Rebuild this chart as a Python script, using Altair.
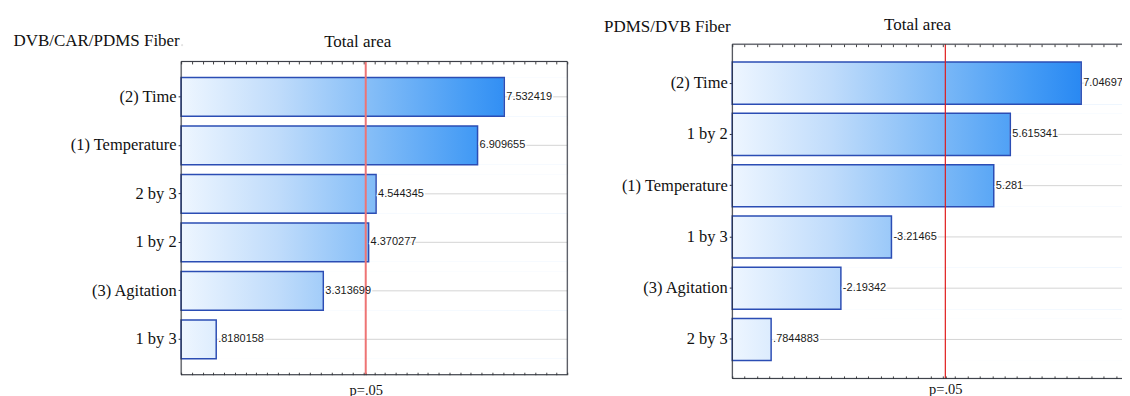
import altair as alt
import pandas as pd

# ---------------- data ----------------
left_fiber = "DVB/CAR/PDMS Fiber"
left_terms = ["(2) Time", "(1) Temperature", "2 by 3", "1 by 2", "(3) Agitation", "1 by 3"]
left_values = [7.532419, 6.909655, 4.544345, 4.370277, 3.313699, 0.8180158]
left_labels = ["7.532419", "6.909655", "4.544345", "4.370277", "3.313699", ".8180158"]
left_xmax = 9

right_fiber = "PDMS/DVB Fiber"
right_terms = ["(2) Time", "1 by 2", "(1) Temperature", "1 by 3", "(3) Agitation", "2 by 3"]
right_values = [7.046977, 5.615341, 5.281, -3.21465, -2.19342, 0.7844883]
right_labels = ["7.046977", "5.615341", "5.281", "-3.21465", "-2.19342", ".7844883"]
right_xmax = 8

t_crit = 4.303          # p = .05 reference line
axis_title = "Total area"
p_label = "p=.05"

SERIF = "Liberation Serif"
SANS = "Liberation Sans"

GRAD = alt.LinearGradient(
    gradient="linear", x1=0, x2=1, y1=0, y2=0,
    stops=[
        alt.GradientStop(offset=0.0, color="#eef6ff"),
        alt.GradientStop(offset=0.25, color="#c0dcfb"),
        alt.GradientStop(offset=0.5, color="#82bcf7"),
        alt.GradientStop(offset=0.75, color="#449bf5"),
        alt.GradientStop(offset=1.0, color="#1078f0"),
    ],
)


def panel(terms, values, labels, xmax, fiber, width, height,
          fiber_x, fiber_y, title_x, title_y, p_pad,
          red_color, red_width, pad_inner, pad_outer):
    df = pd.DataFrame({"term": terms, "effect": values, "label": labels})
    df["mag"] = df["effect"].abs()
    df["zero"] = 0.0
    df["xmax"] = float(xmax)
    quarter = [i / 4 for i in range(int(xmax * 4) + 1)]

    xscale = alt.Scale(domain=[0, xmax], nice=False, zero=True)
    yscale = alt.Scale(paddingInner=pad_inner, paddingOuter=pad_outer)
    yaxis = alt.Axis(
        title=fiber, titleAngle=0, titleAlign="left", titleBaseline="alphabetic",
        titleX=fiber_x, titleY=fiber_y, titleFont=SERIF, titleFontSize=17,
        titleFontWeight="normal", titleColor="#111",
        labelFont=SERIF, labelFontSize=16.5, labelColor="#111", labelPadding=2,
        labelLimit=300, tickSize=3, tickColor="#333", domain=False, grid=False,
    )

    def Y():
        return alt.Y("term:N", sort=terms, scale=yscale, axis=yaxis)

    bottom_axis = alt.Axis(
        orient="bottom", values=quarter + [t_crit],
        labelExpr=f"abs(datum.value - {t_crit}) < 0.001 ? '{p_label}' : ''",
        labelFont=SERIF, labelFontSize=14.5, labelColor="#111",
        labelBaseline="alphabetic", labelPadding=p_pad, labelOverlap=False,
        labelFlush=False, tickSize=2.5, tickColor="#444", tickWidth=1,
        offset=-2.5, domain=False, grid=False, title=None,
    )
    top_axis = alt.Axis(
        orient="top", values=quarter, labels=False, tickSize=2.5, tickColor="#444",
        tickWidth=1, offset=-2.5, domain=False, grid=False,
        title=axis_title, titleFont=SERIF, titleFontSize=17, titleFontWeight="normal",
        titleColor="#111", titleX=title_x, titleY=title_y,
        titleBaseline="alphabetic", titleAlign="center",
    )

    base = alt.Chart(df)
    grad = base.mark_bar(color=GRAD).encode(
        x=alt.X("zero:Q", scale=xscale, axis=bottom_axis), x2="xmax:Q", y=Y())
    cover = base.mark_bar(color="white", stroke="white", strokeWidth=1).encode(
        x=alt.X("mag:Q", axis=top_axis), x2="xmax:Q", y=Y())
    grid = base.mark_rule(color="#d4d4d4", strokeWidth=1).encode(
        x=alt.X("mag:Q", axis=None), x2="xmax:Q", y=Y())
    outline = base.mark_bar(filled=False, color="#2b4db4", strokeWidth=1.5).encode(
        x=alt.X("zero:Q", axis=None), x2="mag:Q", y=Y())
    halo = base.mark_text(align="left", baseline="middle", dx=2, font=SANS, fontSize=11,
                          fill="white", stroke="white", strokeWidth=3, clip=True).encode(
        x=alt.X("mag:Q", axis=None), y=Y(), text="label:N")
    red = alt.Chart(pd.DataFrame({"crit": [t_crit]})).mark_rule(
        color=red_color, strokeWidth=red_width).encode(x=alt.X("crit:Q", axis=None))
    text = base.mark_text(align="left", baseline="middle", dx=2, font=SANS, fontSize=11,
                          color="#1a1a1a", clip=True).encode(
        x=alt.X("mag:Q", axis=None), y=Y(), text="label:N")
    frame = alt.Chart(pd.DataFrame({"f0": [0.0], "f1": [float(xmax)]})).mark_rect(
        fill="transparent", stroke="#2a2e38", strokeWidth=1).encode(
        x=alt.X("f0:Q", axis=None), x2="f1:Q")

    return alt.layer(grad, cover, grid, outline, halo, red, text, frame).properties(
        width=width, height=height)


left = panel(left_terms, left_values, left_labels, left_xmax, left_fiber,
             387, 314, fiber_x=-168.5, fiber_y=-16.3, title_x=176.5, title_y=-17.7,
             p_pad=20, red_color="#ee7474", red_width=2,
             pad_inner=0.2, pad_outer=0.33)

right = panel(right_terms, right_values, right_labels, right_xmax, right_fiber,
              397, 335, fiber_x=-129, fiber_y=-12.7, title_x=185.2, title_y=-17.4,
              p_pad=15, red_color="#e01c1c", red_width=1.2,
              pad_inner=0.18, pad_outer=0.35)

spacer = alt.Chart(pd.DataFrame({"v": pd.Series([], dtype=float)})).mark_point().encode(
    x=alt.X("v:Q", axis=None), y=alt.Y("v:Q", axis=None)).properties(width=1, height=1)

left_col = alt.vconcat(spacer, left, spacing=-15.7)

# the right panel runs to the page edge, as in the (cropped) original figure
chart = alt.hconcat(left_col, right, spacing=34.4).properties(
    padding={"left": 4.5, "top": 5.8, "right": -8, "bottom": 0}
).configure_view(stroke="transparent").configure(font=SERIF)

chart.save("out.html", embed_options={"renderer": "svg", "actions": False})
